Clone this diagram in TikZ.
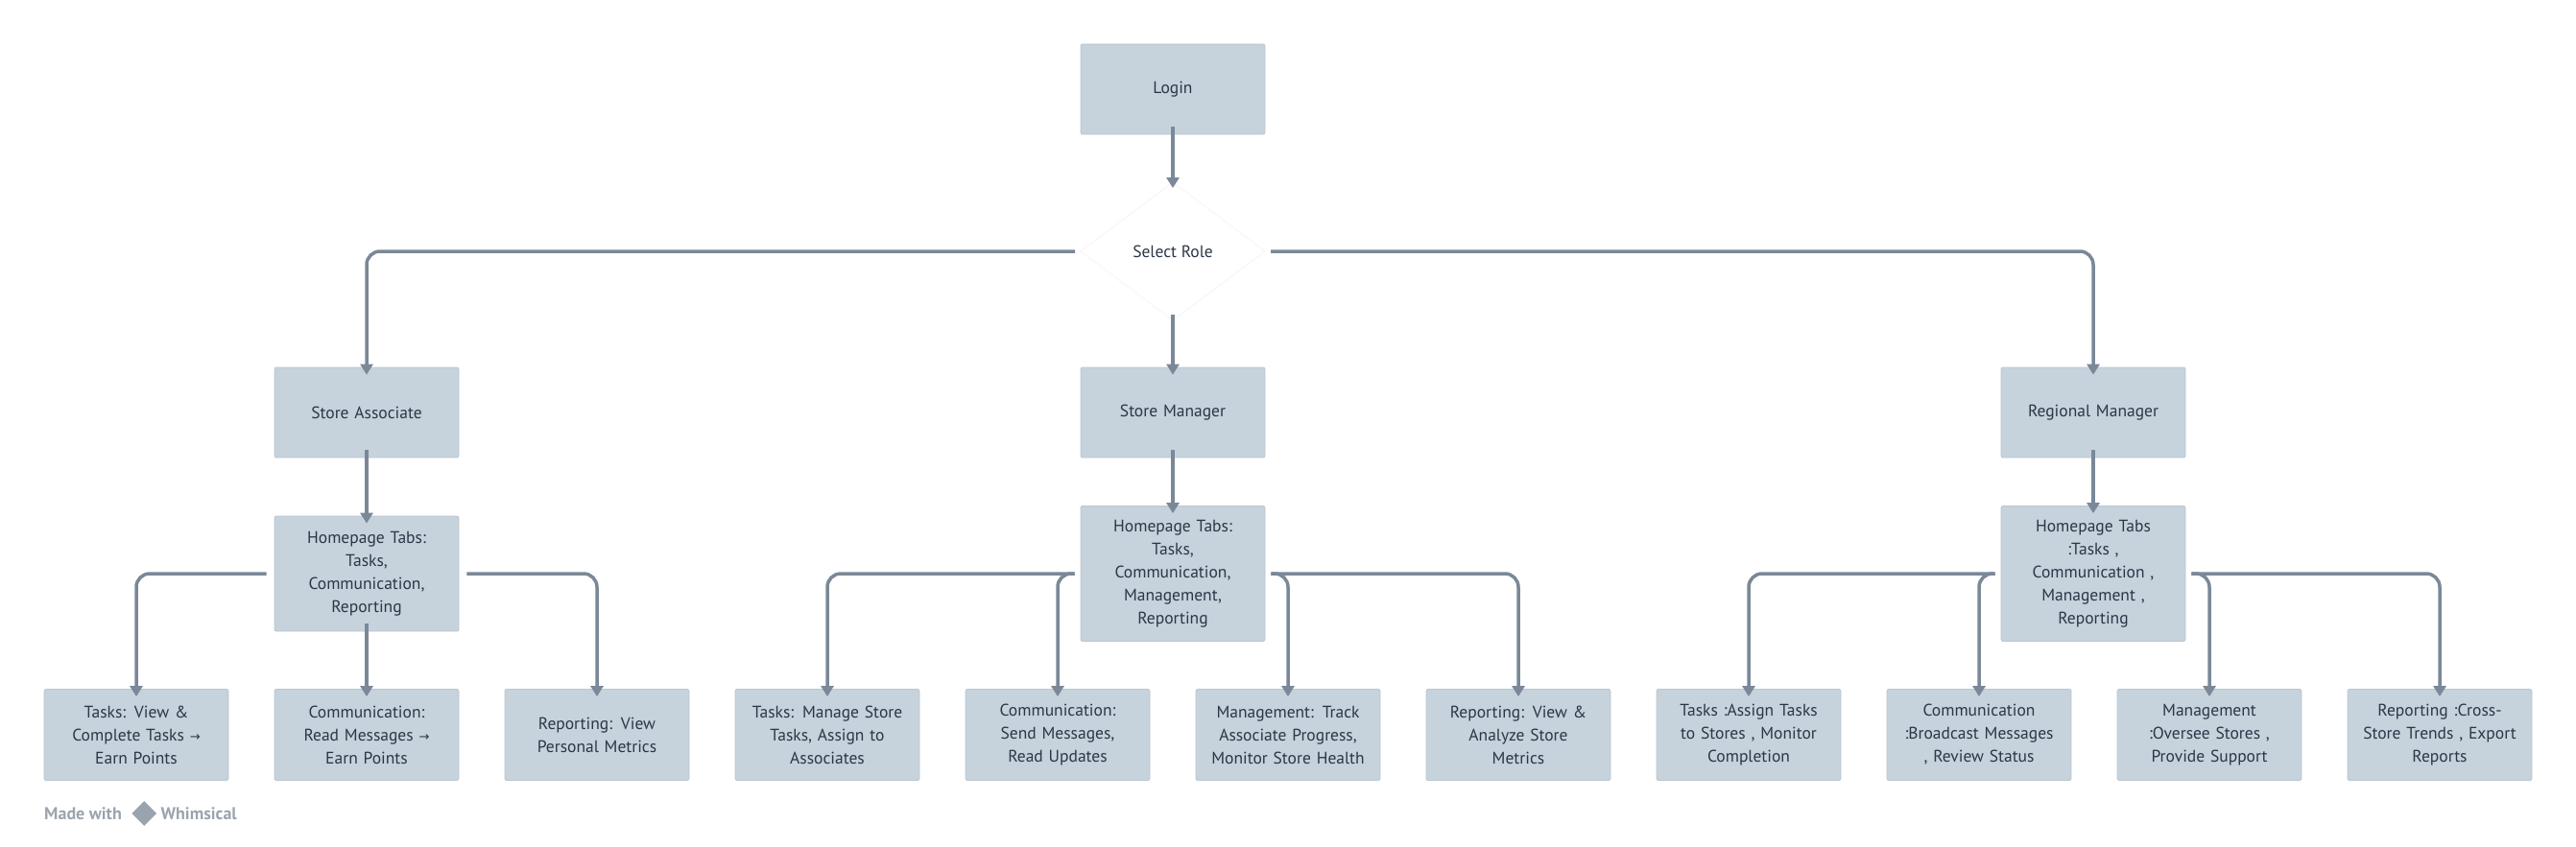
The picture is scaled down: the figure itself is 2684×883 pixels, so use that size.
\documentclass[tikz,border=0pt]{standalone}
\usepackage{fontspec}
\setmainfont{PT Sans}
\newfontfamily\arrowfont{DejaVu Sans}
\usetikzlibrary{arrows.meta,shapes.geometric}
\definecolor{boxc}{HTML}{C6D2DC}
\definecolor{linec}{HTML}{7A8898}
\definecolor{txtc}{HTML}{2A3746}
\definecolor{wm}{HTML}{9AA4AE}
\newcommand{\rarr}{{\arrowfont\fontsize{13}{24}\selectfont →}}
\begin{document}
\begin{tikzpicture}[x=1pt,y=-1pt,
  box/.style={draw=boxc!85!gray,line width=0.8pt,fill=boxc,rounded corners=2pt,minimum width=192pt,text width=180pt,align=center,text=txtc,font=\fontsize{17.5}{24}\selectfont,inner sep=0pt},
  conn/.style={draw=linec,line width=3.5pt,rounded corners=14pt,-{Triangle[length=11pt,width=13pt]}}]
\useasboundingbox (0,0) rectangle (2684,883);
\node[box,minimum height=94pt] (login) at (1222,93) {Login};
\node[text=txtc,font=\fontsize{17.5}{24}\selectfont,inner sep=0pt] (sel) at (1222,262) {Select Role};
\coordinate (dt) at (1222,190);
\coordinate (db) at (1222,334);
\coordinate (dl) at (1126,262);
\coordinate (dr) at (1318,262);
\draw[gray!7,line width=1pt] (dt) -- (dr) -- (db) -- (dl) -- cycle;
\node[box,minimum height=94pt] (sa) at (382,430) {Store Associate};
\node[box,minimum height=94pt] (sm) at (1222,430) {Store Manager};
\node[box,minimum height=94pt] (rm) at (2181,430) {Regional Manager};
\node[box,minimum height=120pt] (hsa) at (382,598) {Homepage Tabs:\\Tasks,\\Communication,\\Reporting};
\node[box,minimum height=141pt,text width=150pt] (hsm) at (1222,598) {Homepage Tabs:\\Tasks,\\Communication,\\Management,\\Reporting};
\node[box,minimum height=141pt,text width=150pt] (hrm) at (2181,598) {Homepage Tabs\\:Tasks ,\\Communication ,\\Management ,\\Reporting};
\foreach \n/\x/\t in {a1/142/{Tasks: View \&\\Complete Tasks \rarr\\Earn Points},
 a2/382/{Communication:\\Read Messages \rarr\\Earn Points},
 a3/622/{Reporting: View\\Personal Metrics},
 m1/862/{Tasks: Manage Store\\Tasks, Assign to\\Associates},
 m2/1102/{Communication:\\Send Messages,\\Read Updates},
 m3/1342/{Management: Track\\Associate Progress,\\Monitor Store Health},
 m4/1582/{Reporting: View \&\\Analyze Store\\Metrics},
 r1/1822/{Tasks :Assign Tasks\\to Stores , Monitor\\Completion},
 r2/2062/{Communication\\:Broadcast Messages\\, Review Status},
 r3/2302/{Management\\:Oversee Stores ,\\Provide Support},
 r4/2542/{Reporting :Cross-\\Store Trends , Export\\Reports}}
 \node[box,minimum height=95pt] (\n) at (\x,766) {\t};
% connectors
\draw[conn] ([yshift=8pt]login.south) -- ([yshift=-6pt]dt);
\draw[conn] ([yshift=6pt]db) -- ([yshift=-8pt]sm.north);
\draw[conn] ([xshift=-6pt]dl) -| ([yshift=-8pt]sa.north);
\draw[conn] ([xshift=6pt]dr) -| ([yshift=-8pt]rm.north);
\foreach \a/\b in {sa/hsa,sm/hsm,rm/hrm}
  \draw[conn] ([yshift=8pt]\a.south) -- ([yshift=-8pt]\b.north);
\draw[conn] ([xshift=-8pt]hsa.west) -| ([yshift=-8pt]a1.north);
\draw[conn] ([yshift=8pt]hsa.south) -- ([yshift=-8pt]a2.north);
\draw[conn] ([xshift=8pt]hsa.east) -| ([yshift=-8pt]a3.north);
\foreach \h/\p/\q/\r/\s in {hsm/m1/m2/m3/m4,hrm/r1/r2/r3/r4}{
  \draw[conn] ([xshift=-6pt]\h.west) -| ([yshift=-8pt]\p.north);
  \draw[conn] ([xshift=-6pt]\h.west) -| ([yshift=-8pt]\q.north);
  \draw[conn] ([xshift=6pt]\h.east) -| ([yshift=-8pt]\r.north);
  \draw[conn] ([xshift=6pt]\h.east) -| ([yshift=-8pt]\s.north);
}
% watermark
\node[anchor=west,text=wm,font=\fontsize{18}{20}\selectfont\bfseries,inner sep=0pt] (made) at (46,848) {Made with};
\node[diamond,fill=wm,minimum width=26pt,minimum height=26pt,inner sep=0pt,anchor=west] (logo) at ([xshift=10pt]made.east) {};
\node[anchor=west,text=wm,font=\fontsize{18}{20}\selectfont\bfseries,inner sep=0pt] (whim) at ([xshift=4pt]logo.east) {Whimsical};
\end{tikzpicture}
\end{document}
